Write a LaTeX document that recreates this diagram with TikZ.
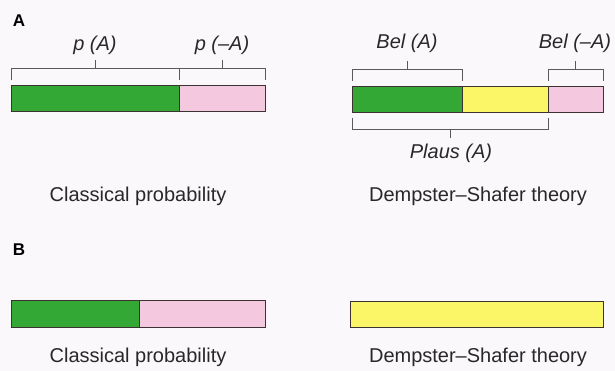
\documentclass[tikz,border=0pt]{standalone}
\usetikzlibrary{calc}
\usepackage{fontspec}
\setmainfont{Liberation Sans}
\definecolor{bg}{RGB}{251,248,251}
\definecolor{barg}{RGB}{52,168,52}
\definecolor{barp}{RGB}{244,200,222}
\definecolor{bary}{RGB}{250,246,104}
\definecolor{edge}{RGB}{60,50,50}
\definecolor{brk}{RGB}{90,90,90}
\definecolor{txt}{RGB}{40,40,40}
\tikzset{
  bar/.style={draw=edge, line width=0.9pt, inner sep=0pt, outer sep=0pt, anchor=west},
  brace/.style={draw=brk, line width=0.8pt},
  lab/.style={font=\fontsize{20}{24}\selectfont\itshape, inner sep=0pt, text=txt},
  captext/.style={font=\fontsize{20}{24}\selectfont, inner sep=0pt, text=txt},
  panel/.style={font=\fontsize{17}{20}\selectfont\bfseries, inner sep=0pt}
}
\begin{document}
\begin{tikzpicture}[x=1pt,y=-1pt]
\fill[bg] (0,0) rectangle (615,371);
\useasboundingbox (0,0) rectangle (615,371);
% panel labels
\node[panel] (pa) at (19,21) {A};
\node[panel] (pb) at (19,250) {B};
% Panel A left
\node[bar, fill=barg, minimum width=168pt, minimum height=26pt] (lg) at (11,98.5) {};
\node[bar, fill=barp, minimum width=86pt, minimum height=26pt] (lp) at (lg.east) {};
% brackets p(A), p(-A)
\draw[brace] ([yshift=5pt]lg.north west) -- ([yshift=17pt]lg.north west) -- ([yshift=17pt]lg.north east) -- ([yshift=5pt]lg.north east);
\draw[brace] ([yshift=17pt]lg.north east) -- ([yshift=17pt]lp.north east) -- ([yshift=5pt]lp.north east);
\coordinate (tpa) at ([yshift=17pt]lg.north);
\coordinate (tpna) at ([yshift=17pt]lp.north);
\draw[brace] (tpa) -- ([yshift=8pt]tpa);
\draw[brace] (tpna) -- ([yshift=8pt]tpna);
\node[lab] (la) at (95,45) {p (A)};
\node[lab] (lna) at (222,45) {p (–A)};
% Panel A right
\node[bar, fill=barg, minimum width=110pt, minimum height=26pt] (rg) at (352,99) {};
\node[bar, fill=bary, minimum width=86pt, minimum height=26pt] (ry) at (rg.east) {};
\node[bar, fill=barp, minimum width=55pt, minimum height=26pt] (rp) at (ry.east) {};
\draw[brace] ([yshift=5pt]rg.north west) -- ([yshift=17pt]rg.north west) -- ([yshift=17pt]rg.north east) -- ([yshift=5pt]rg.north east);
\draw[brace] ([yshift=5pt]rp.north west) -- ([yshift=17pt]rp.north west) -- ([yshift=17pt]rp.north east) -- ([yshift=5pt]rp.north east);
\coordinate (tbel) at ([yshift=17pt]rg.north);
\coordinate (tbeln) at ([yshift=17pt]rp.north);
\draw[brace] (tbel) -- ([yshift=8pt]tbel);
\draw[brace] (tbeln) -- ([yshift=8pt]tbeln);
\node[lab] (lbel) at (407,43) {Bel (A)};
\node[lab] (lbeln) at (575,43) {Bel (–A)};
% Plaus bracket
\draw[brace] ([yshift=-6pt]rg.south west) -- ([yshift=-17pt]rg.south west) -- ([yshift=-17pt]ry.south east) -- ([yshift=-6pt]ry.south east);
\coordinate (tpl) at ($([yshift=-17pt]rg.south west)!0.5!([yshift=-17pt]ry.south east)$);
\draw[brace] (tpl) -- ([yshift=-9pt]tpl);
\node[lab] (lpl) at (451,153) {Plaus (A)};
% captions A
\node[captext] (ca1) at (138,196) {Classical probability};
\node[captext] (ca2) at (478,196) {Dempster–Shafer theory};
% Panel B
\node[bar, fill=barg, minimum width=128pt, minimum height=27pt] (bg) at (11,314) {};
\node[bar, fill=barp, minimum width=126pt, minimum height=27pt] (bp) at (bg.east) {};
\node[bar, fill=bary, minimum width=253pt, minimum height=26pt] (by) at (350,314) {};
\node[captext] (cb1) at (138,357) {Classical probability};
\node[captext] (cb2) at (478,357) {Dempster–Shafer theory};
\end{tikzpicture}
\end{document}
